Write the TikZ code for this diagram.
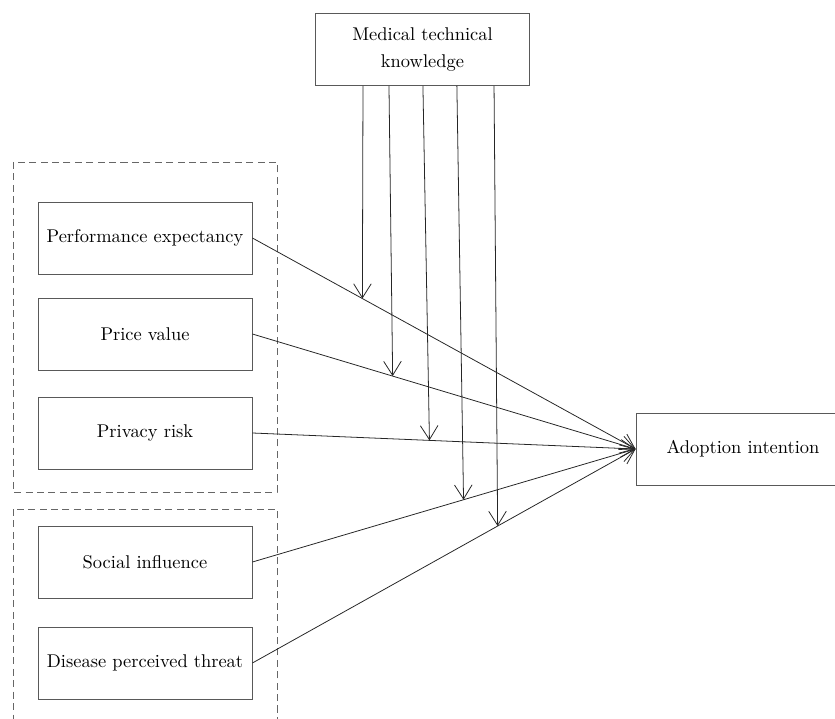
\documentclass[tikz,border=0pt]{standalone}
\usetikzlibrary{arrows.meta,calc}

\begin{document}
\begin{tikzpicture}[x=0.02cm, y=-0.02cm,
    factor/.style={draw=black!65, line width=0.5pt, minimum width=4.28cm,
        minimum height=1.44cm, inner sep=2pt, align=center,
        font=\fontsize{10.5}{15}\selectfont},
    group/.style={draw=black!60, line width=0.5pt, dash pattern=on 4pt off 2.5pt},
    path/.style={draw=black!85, line width=0.45pt,
        -{Straight Barb[length=8pt, width=10pt, line width=0.45pt]}}]

    % Fix the page to the size of the reference
    \useasboundingbox (0,0) rectangle (835,719);

    % Dashed groups round the factors
    \draw[group] (13,162) rectangle (277,492);
    \draw[group] (13,509) rectangle (277,730);

    % Factor boxes on the left
    \node[factor] (pe) at (145,238) {Performance expectancy};
    \node[factor] (pv) at (145,334) {Price value};
    \node[factor] (pr) at (145,433) {Privacy risk};
    \node[factor] (si) at (145,562) {Social influence};
    \node[factor] (dt) at (145,663) {Disease perceived threat};

    % Moderator on top and outcome on the right
    \node[factor] (mk) at (422.5,49.5) {Medical technical\\knowledge};
    \node[factor] (ai) at (743,449) {Adoption intention};

    % Direct paths to the outcome, with a point on each for the moderator
    \draw[path] (pe.east) -- coordinate[pos=0.287] (m1) (ai.west);
    \draw[path] (pv.east) -- coordinate[pos=0.366] (m2) (ai.west);
    \draw[path] (pr.east) -- coordinate[pos=0.462] (m3) (ai.west);
    \draw[path] (si.east) -- coordinate[pos=0.551] (m4) (ai.west);
    \draw[path] (dt.east) -- coordinate[pos=0.640] (m5) (ai.west);

    % Moderating arrows from the bottom of the knowledge box
    \draw[path] ($(mk.south west)!0.223!(mk.south east)$) -- (m1);
    \draw[path] ($(mk.south west)!0.344!(mk.south east)$) -- (m2);
    \draw[path] ($(mk.south west)!0.502!(mk.south east)$) -- (m3);
    \draw[path] ($(mk.south west)!0.660!(mk.south east)$) -- (m4);
    \draw[path] ($(mk.south west)!0.833!(mk.south east)$) -- (m5);

\end{tikzpicture}
\end{document}
